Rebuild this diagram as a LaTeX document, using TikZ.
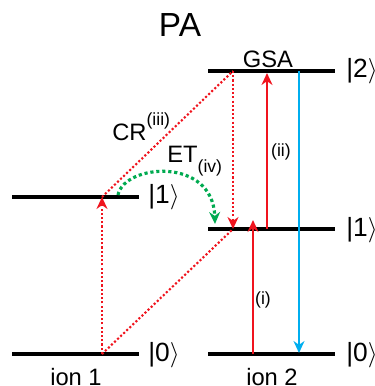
\documentclass[tikz,border=0pt]{standalone}
\usepackage{fontspec}
\setmainfont{Liberation Sans}
\usetikzlibrary{arrows.meta}
\definecolor{pRed}{RGB}{240,20,30}
\definecolor{pBlue}{RGB}{0,174,239}
\definecolor{pGreen}{RGB}{0,170,80}

\begin{document}
\begin{tikzpicture}[
    x=0.02cm, y=-0.02cm,
    level/.style={line width=1.9pt},
    ket/.style  ={anchor=west, inner sep=0pt, font=\fontsize{15}{15}\selectfont},
    lbl/.style  ={inner sep=0pt, font=\fontsize{13.5}{14}\selectfont},
    tag/.style  ={inner sep=0pt, font=\fontsize{10}{10}\selectfont},
    beam/.style ={-{Stealth[length=2.4mm, width=2.2mm]}, line width=1.4pt},
    relax/.style={pRed, line width=1.2pt, dash pattern=on 1.2pt off 1.2pt},
    ettr/.style ={pGreen, line width=1.8pt, dash pattern=on 1.8pt off 1.6pt,
                  -{Stealth[length=2.4mm, width=2.2mm]}}
]
\useasboundingbox (0,0) rectangle (375,386);

% energy levels
\coordinate (a0w) at (12,354);  \coordinate (a0e) at (139,354);
\coordinate (a1w) at (12,197);  \coordinate (a1e) at (139,197);
\coordinate (b0w) at (208,354); \coordinate (b0e) at (335,354);
\coordinate (b1w) at (208,229); \coordinate (b1e) at (335,229);
\coordinate (b2w) at (208,71);  \coordinate (b2e) at (335,71);
\draw[level] (a0w) -- (a0e);
\draw[level] (a1w) -- (a1e);
\draw[level] (b0w) -- (b0e);
\draw[level] (b1w) -- (b1e);
\draw[level] (b2w) -- (b2e);

\node[ket] (k0a) at (148,355) {\textbar0$\rangle$};
\node[ket] (k1a) at (148,197) {\textbar1$\rangle$};
\node[ket] (k0b) at (346,355) {\textbar0$\rangle$};
\node[ket] (k1b) at (346,230) {\textbar1$\rangle$};
\node[ket] (k2b) at (346,71)  {\textbar2$\rangle$};

\node[lbl] (ion1) at (76,377)  {ion 1};
\node[lbl] (ion2) at (272,377) {ion 2};
\node[inner sep=0pt, font=\fontsize{19}{19}\selectfont] (title) at (180,25) {PA};
\node[lbl] (gsa) at (268,59) {GSA};

% cross relaxation and energy transfer
\coordinate (p0) at (102,354);
\coordinate (p1) at (102,197);
\coordinate (q2) at (233,71);
\coordinate (q1) at (233,229);
\draw[relax, -{Stealth[length=2.4mm, width=2.2mm]}] (p0) -- (p1);
\draw[relax] (p1) -- (q2);
\draw[relax, -{Stealth[length=2.4mm, width=2.2mm]}] (q2) -- (q1);
\draw[relax] (p0) -- (q1);
\node[lbl, anchor=west] (cr) at (112,127)
  {CR\raisebox{1.2ex}{\fontsize{10}{10}\selectfont(iii)}};

\coordinate (g0) at (118,195);
\coordinate (g1) at (215,224);
\draw[ettr] (g0) .. controls (124,164) and (213,156) .. (g1);
\node[lbl, anchor=west] (et) at (167,161)
  {ET\raisebox{-0.8ex}{\fontsize{10}{10}\selectfont(iv)}};

% absorption and decay in ion 2
\coordinate (r0) at (253,354); \coordinate (r1) at (253,220);
\coordinate (s1) at (267,229); \coordinate (s2) at (267,73);
\coordinate (t2) at (299,71);  \coordinate (t0) at (299,353);
\draw[beam, pRed]  (r0) -- (r1);
\draw[beam, pRed]  (s1) -- (s2);
\draw[beam, pBlue] (t2) -- (t0);
\node[tag] (abs1) at (263,300) {(i)};
\node[tag] (abs2) at (281,152) {(ii)};
\end{tikzpicture}
\end{document}
